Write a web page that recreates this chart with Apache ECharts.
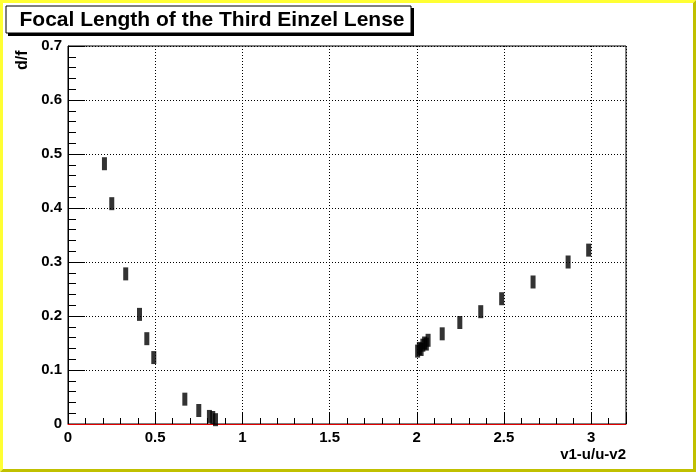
<!DOCTYPE html>
<html>
<head>
<meta charset="utf-8">
<script src="https://cdn.jsdelivr.net/npm/echarts@6/dist/echarts.min.js"></script>
<style>html,body{margin:0;padding:0;background:#fff}#c{width:696px;height:472px}</style>
</head>
<body>
<div id="c"></div>
<script>
const titleText = 'Focal Length of the Third Einzel Lense';
const xName = 'v1-u/u-v2';
const yName = 'd/f';
const xTicks = [0, 0.5, 1, 1.5, 2, 2.5, 3];
const yTicks = [0, 0.1, 0.2, 0.3, 0.4, 0.5, 0.6, 0.7];
const xLow = [0.209, 0.251, 0.331, 0.410, 0.452, 0.492, 0.670, 0.750, 0.811, 0.830, 0.846];
const yLow = [0.482, 0.408, 0.278, 0.203, 0.158, 0.123, 0.046, 0.025, 0.014, 0.012, 0.008];
const xCluster = [2.005, 2.015, 2.025, 2.035, 2.045, 2.055, 2.065];
const yCluster = [0.135, 0.140, 0.138, 0.146, 0.150, 0.148, 0.155];
const xHigh = [2.146, 2.247, 2.367, 2.487, 2.667, 2.868, 2.986];
const yHigh = [0.167, 0.188, 0.208, 0.232, 0.263, 0.300, 0.322];

const pts = [];
[[xLow, yLow], [xCluster, yCluster], [xHigh, yHigh]].forEach(([xs, ys]) => {
  xs.forEach((x, i) => pts.push([x, ys[i]]));
});

const font = "'Liberation Sans', Arial, Helvetica, sans-serif";
const chart = echarts.init(document.getElementById('c'), null, {renderer: 'canvas'});
chart.setOption({
  animation: false,
  backgroundColor: '#ffffff',
  grid: {left: 68, right: 70, top: 46, bottom: 48, show: true, borderColor: '#000', borderWidth: 1, backgroundColor: '#fff'},
  xAxis: {
    type: 'value', min: 0, max: 3.2, interval: 0.5, z: 4,
    axisLine: {show: true, onZero: false, lineStyle: {color: '#e00000', width: 1}},
    axisTick: {show: true, inside: true, length: 11, lineStyle: {color: '#000'}},
    minorTick: {show: true, splitNumber: 5, length: 6, lineStyle: {color: '#000'}},
    splitLine: {show: true, lineStyle: {color: '#000', type: [1, 2], width: 1}},
    axisLabel: {
      margin: 6, color: '#000', fontWeight: 'bold', fontSize: 15, fontFamily: font,
      formatter: v => xTicks.some(t => Math.abs(t - v) < 1e-9) ? String(+v.toFixed(1)) : ''
    }
  },
  yAxis: {
    type: 'value', min: 0, max: 0.7, interval: 0.1, z: 3,
    axisLine: {show: true, onZero: false, lineStyle: {color: '#000', width: 1}},
    axisTick: {show: true, inside: true, length: 17, lineStyle: {color: '#000'}},
    minorTick: {show: true, splitNumber: 5, length: 8, lineStyle: {color: '#000'}},
    splitLine: {show: true, lineStyle: {color: '#000', type: [1, 2], width: 1}},
    axisLabel: {
      margin: 6, color: '#000', fontWeight: 'bold', fontSize: 15, fontFamily: font,
      formatter: v => yTicks.some(t => Math.abs(t - v) < 1e-9) ? String(+v.toFixed(1)) : ''
    }
  },
  series: [{
    type: 'scatter',
    data: pts,
    symbol: 'rect',
    symbolSize: [5, 13],
    itemStyle: {color: '#000'},
    clip: true,
    z: 5
  }],
  graphic: [
    {type: 'polygon', z: 100, silent: true, shape: {points: [[0,0],[696,0],[693,3],[3,3],[3,469],[0,472]]}, style: {fill: '#ffff33'}},
    {type: 'polygon', z: 100, silent: true, shape: {points: [[696,0],[696,472],[0,472],[3,469],[693,469],[693,3]]}, style: {fill: '#c0c000'}},
    {type: 'rect', z: 100, silent: true, shape: {x: 8, y: 8, width: 406, height: 28}, style: {fill: '#000'}},
    {type: 'rect', z: 101, silent: true, shape: {x: 6, y: 6, width: 405, height: 27}, style: {fill: '#fff', stroke: '#000', lineWidth: 1}},
    {type: 'text', z: 102, silent: true, x: 212, y: 20, style: {text: titleText, fill: '#000', font: "bold 21px " + font, textAlign: 'center', textVerticalAlign: 'middle'}},
    {type: 'text', z: 102, silent: true, x: 23, y: 70, rotation: Math.PI / 2, style: {text: yName, fill: '#000', font: "bold 16px " + font, textAlign: 'left', textVerticalAlign: 'middle'}},
    {type: 'text', z: 102, silent: true, x: 626, y: 455, style: {text: xName, fill: '#000', font: "bold 15px " + font, textAlign: 'right', textVerticalAlign: 'middle'}}
  ]
});
</script>
</body>
</html>
